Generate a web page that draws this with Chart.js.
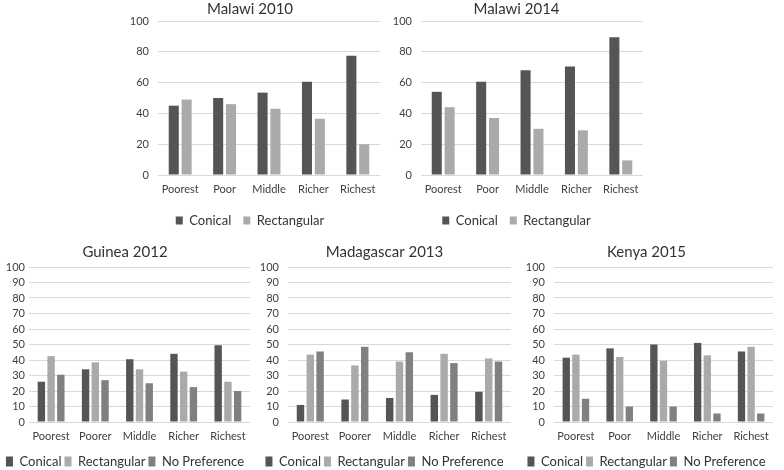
<!DOCTYPE html>
<html lang="en">
<head>
<meta charset="UTF-8">
<title>Preferred net shape by wealth quintile</title>
<script src="https://cdn.jsdelivr.net/npm/chart.js"></script>
<style>
    body { margin: 0; background: #fff; }
    #wrap { position: relative; width: 784px; height: 470px; overflow: hidden; background: #fff; }
    .box { position: absolute; }
</style>
</head>
<body>
<div id="wrap">
    <div class="box" style="left:120px;top:0;width:270px;height:240px"><canvas id="malawi2010"></canvas></div>
    <div class="box" style="left:390px;top:0;width:266px;height:240px"><canvas id="malawi2014"></canvas></div>
    <div class="box" style="left:0;top:240px;width:262px;height:240px"><canvas id="guinea2012"></canvas></div>
    <div class="box" style="left:258px;top:240px;width:266px;height:240px"><canvas id="madagascar2013"></canvas></div>
    <div class="box" style="left:520px;top:240px;width:264px;height:240px"><canvas id="kenya2015"></canvas></div>
</div>
<script>
    // quintile labels
    const quintilesPoor = ['Poorest', 'Poor', 'Middle', 'Richer', 'Richest'];
    const quintilesPoorer = ['Poorest', 'Poorer', 'Middle', 'Richer', 'Richest'];
    const seriesNames = ['Conical', 'Rectangular', 'No Preference'];

    // percentages
    const malawi2010Conical = [45, 50, 53.5, 60.5, 77.5];
    const malawi2010Rect = [49, 46, 43, 36.5, 20];

    const malawi2014Conical = [54, 60.5, 68, 70.5, 89.5];
    const malawi2014Rect = [44, 37, 30, 29, 9.5];

    const guinea2012Conical = [26, 34, 40.5, 44, 49.5];
    const guinea2012Rect = [42.5, 38.5, 34, 32.5, 26];
    const guinea2012NoPref = [30.5, 27, 25, 22.5, 20];

    const madagascar2013Conical = [11, 14.5, 15.5, 17.5, 19.5];
    const madagascar2013Rect = [43.5, 36.5, 39, 44, 41];
    const madagascar2013NoPref = [45.5, 48.5, 45, 38, 39];

    const kenya2015Conical = [41.5, 47.5, 50, 51, 45.5];
    const kenya2015Rect = [43.5, 42, 39.5, 43, 48.5];
    const kenya2015NoPref = [15, 10, 10, 5.5, 5.5];

    const colors = ['#555555', '#aaaaaa', '#808080'];
    const FONT = 'Lato, "Open Sans", sans-serif';

    function makeChart(id, title, labels, seriesList, cfg) {
        const datasets = seriesList.map((vals, i) => ({
            label: seriesNames[i],
            data: vals,
            backgroundColor: colors[i],
            borderWidth: 0,
            categoryPercentage: cfg.catPct,
            barPercentage: cfg.barPct
        }));
        return new Chart(document.getElementById(id), {
            type: 'bar',
            data: { labels: labels, datasets: datasets },
            options: {
                responsive: true,
                maintainAspectRatio: false,
                animation: false,
                layout: { padding: { left: 0, right: cfg.padRight, top: 0, bottom: cfg.padBottom } },
                plugins: {
                    tooltip: { enabled: false },
                    title: {
                        display: true,
                        text: title,
                        color: '#333333',
                        font: { family: FONT, size: 15, weight: 'normal' },
                        padding: cfg.titlePad
                    },
                    legend: {
                        position: 'bottom',
                        labels: {
                            color: '#333333',
                            font: { family: FONT, size: 13 },
                            boxWidth: cfg.boxW,
                            boxHeight: cfg.boxH,
                            padding: cfg.legendPad
                        }
                    }
                },
                scales: {
                    x: {
                        grid: { display: false, drawTicks: false },
                        border: { display: false },
                        ticks: { color: '#404040', font: { family: FONT, size: 11 }, padding: 8, maxRotation: 0 },
                        afterFit: s => { s.height = cfg.xHeight; }
                    },
                    y: {
                        min: 0,
                        max: 100,
                        grid: { color: '#d9d9d9', drawTicks: false },
                        border: { display: false },
                        ticks: {
                            stepSize: cfg.step, autoSkip: false,
                            color: '#404040', font: { family: FONT, size: 11 }, padding: cfg.yTickPad
                        },
                        afterFit: s => { s.width = cfg.yWidth; }
                    }
                }
            }
        });
    }

    const topCfg = {
        catPct: 0.58, barPct: 0.78, step: 20,
        titlePad: { top: 0, bottom: 3 }, padBottom: 3,
        legendPad: 12, boxW: 7, boxH: 8, xHeight: 27, yTickPad: 9
    };
    const bottomCfg = {
        catPct: 0.66, barPct: 0.76, step: 10,
        titlePad: { top: 3, bottom: 6 }, padBottom: 2,
        legendPad: 3, boxW: 7, boxH: 10, xHeight: 30, yTickPad: 9
    };

    makeChart('malawi2010', 'Malawi 2010', quintilesPoor,
        [malawi2010Conical, malawi2010Rect],
        Object.assign({}, topCfg, { yWidth: 38, padRight: 10 }));
    makeChart('malawi2014', 'Malawi 2014', quintilesPoor,
        [malawi2014Conical, malawi2014Rect],
        Object.assign({}, topCfg, { yWidth: 31, padRight: 13 }));
    makeChart('guinea2012', 'Guinea 2012', quintilesPoorer,
        [guinea2012Conical, guinea2012Rect, guinea2012NoPref],
        Object.assign({}, bottomCfg, { yWidth: 29, padRight: 12, yTickPad: 4 }));
    makeChart('madagascar2013', 'Madagascar 2013', quintilesPoorer,
        [madagascar2013Conical, madagascar2013Rect, madagascar2013NoPref],
        Object.assign({}, bottomCfg, { yWidth: 30, padRight: 13 }));
    makeChart('kenya2015', 'Kenya 2015', quintilesPoor,
        [kenya2015Conical, kenya2015Rect, kenya2015NoPref],
        Object.assign({}, bottomCfg, { yWidth: 34, padRight: 11 }));
</script>
</body>
</html>
